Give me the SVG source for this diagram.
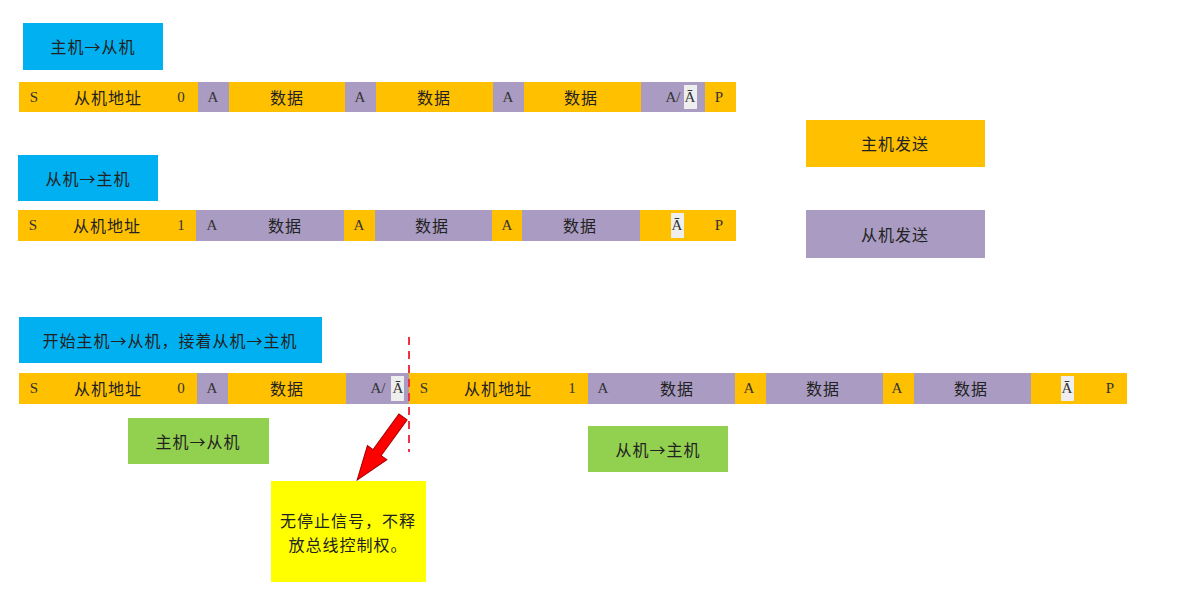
<svg xmlns="http://www.w3.org/2000/svg" width="1186" height="605" viewBox="0 0 1186 605">
<style>
.o{fill:#FFC000}
.p{fill:#A99BC1}
.b{fill:#00B0F0}
.g{fill:#92D050}
.y{fill:#FFFF00}
.lb{fill:#EEEEEE}
.zh{font-family:"Noto Sans CJK SC","Noto Sans",sans-serif;font-size:16px;fill:#222;text-anchor:middle;dominant-baseline:central;letter-spacing:1px}
.la{font-family:"Liberation Serif","DejaVu Serif",serif;font-size:15px;fill:#333;text-anchor:middle;dominant-baseline:central}
</style>
<rect width="1186" height="605" fill="#fff"/>

<g id="title1"><rect class="b" x="23" y="23" width="140" height="47"/><text class="zh" x="93" y="46">主机→从机</text></g>

<g id="frame1">
<rect class="o" x="19" y="82" width="179" height="30"/>
<rect class="p" x="198" y="82" width="31" height="30"/>
<rect class="o" x="229" y="82" width="116" height="30"/>
<rect class="p" x="345" y="82" width="31" height="30"/>
<rect class="o" x="376" y="82" width="117" height="30"/>
<rect class="p" x="493" y="82" width="31" height="30"/>
<rect class="o" x="524" y="82" width="117" height="30"/>
<rect class="p" x="641" y="82" width="64" height="30"/>
<rect class="o" x="705" y="82" width="31" height="30"/>
<rect class="lb" x="684" y="85" width="13" height="24"/>
<text class="la" x="34" y="97">S</text>
<text class="zh" x="108" y="97">从机地址</text>
<text class="la" x="181" y="97">0</text>
<text class="la" x="213" y="97">A</text>
<text class="zh" x="287" y="97">数据</text>
<text class="la" x="360" y="97">A</text>
<text class="zh" x="434" y="97">数据</text>
<text class="la" x="508" y="97">A</text>
<text class="zh" x="581" y="97">数据</text>
<text class="la" x="673" y="97">A/</text>
<text class="la" x="690" y="97">Ā</text>
<text class="la" x="719" y="97">P</text>
</g>

<g id="title2"><rect class="b" x="18" y="155" width="140" height="46"/><text class="zh" x="88" y="178">从机→主机</text></g>

<g id="frame2">
<rect class="o" x="18" y="210" width="178" height="31"/>
<rect class="p" x="196" y="210" width="148" height="31"/>
<rect class="o" x="344" y="210" width="31" height="31"/>
<rect class="p" x="375" y="210" width="117" height="31"/>
<rect class="o" x="492" y="210" width="30" height="31"/>
<rect class="p" x="522" y="210" width="118" height="31"/>
<rect class="o" x="640" y="210" width="96" height="31"/>
<rect class="lb" x="671" y="213" width="13" height="25"/>
<text class="la" x="33" y="225">S</text>
<text class="zh" x="107" y="225">从机地址</text>
<text class="la" x="181" y="225">1</text>
<text class="la" x="212" y="225">A</text>
<text class="zh" x="285" y="225">数据</text>
<text class="la" x="359" y="225">A</text>
<text class="zh" x="432" y="225">数据</text>
<text class="la" x="507" y="225">A</text>
<text class="zh" x="580" y="225">数据</text>
<text class="la" x="677" y="225">Ā</text>
<text class="la" x="719" y="225">P</text>
</g>

<g id="legend-master"><rect class="o" x="806" y="120" width="179" height="47"/><text class="zh" x="895" y="143">主机发送</text></g>
<g id="legend-slave"><rect class="p" x="806" y="210" width="179" height="48"/><text class="zh" x="895" y="234">从机发送</text></g>

<g id="title3"><rect class="b" x="19" y="317" width="303" height="46"/><text class="zh" x="170" y="340">开始主机→从机，接着从机→主机</text></g>

<g id="frame3">
<rect class="o" x="19" y="373" width="178" height="31"/>
<rect class="p" x="197" y="373" width="31" height="31"/>
<rect class="o" x="228" y="373" width="118" height="31"/>
<rect class="p" x="346" y="373" width="63" height="31"/>
<rect class="o" x="409" y="373" width="179" height="31"/>
<rect class="p" x="588" y="373" width="147" height="31"/>
<rect class="o" x="735" y="373" width="31" height="31"/>
<rect class="p" x="766" y="373" width="117" height="31"/>
<rect class="o" x="883" y="373" width="31" height="31"/>
<rect class="p" x="914" y="373" width="117" height="31"/>
<rect class="o" x="1031" y="373" width="96" height="31"/>
<rect class="lb" x="391" y="376" width="13" height="25"/>
<rect class="lb" x="1061" y="376" width="13" height="25"/>
<text class="la" x="34" y="388">S</text>
<text class="zh" x="108" y="388">从机地址</text>
<text class="la" x="181" y="388">0</text>
<text class="la" x="212" y="388">A</text>
<text class="zh" x="287" y="388">数据</text>
<text class="la" x="378" y="388">A/</text>
<text class="la" x="398" y="388">Ā</text>
<text class="la" x="424" y="388">S</text>
<text class="zh" x="498" y="388">从机地址</text>
<text class="la" x="572" y="388">1</text>
<text class="la" x="603" y="388">A</text>
<text class="zh" x="677" y="388">数据</text>
<text class="la" x="749" y="388">A</text>
<text class="zh" x="823" y="388">数据</text>
<text class="la" x="897" y="388">A</text>
<text class="zh" x="971" y="388">数据</text>
<text class="la" x="1067" y="388">Ā</text>
<text class="la" x="1110" y="388">P</text>
</g>

<g id="label-m2s"><rect class="g" x="128" y="418" width="141" height="46"/><text class="zh" x="198" y="441">主机→从机</text></g>
<g id="label-s2m"><rect class="g" x="588" y="426" width="140" height="46"/><text class="zh" x="658" y="449">从机→主机</text></g>

<g id="note"><rect class="y" x="271" y="481" width="155" height="101"/>
<text class="zh" x="348" y="520">无停止信号，不释</text>
<text class="zh" x="348" y="544">放总线控制权。</text></g>

<g id="connectors">
<line x1="409" y1="337" x2="409" y2="452" stroke="#EE3344" stroke-width="2" stroke-dasharray="8,6"/>
<polygon transform="translate(403,417) rotate(126)" points="0,-5 44,-5 44,-12 78,0 44,12 44,5 0,5" fill="#FF0000" stroke="#A00000" stroke-width="1"/>
</g>
</svg>
